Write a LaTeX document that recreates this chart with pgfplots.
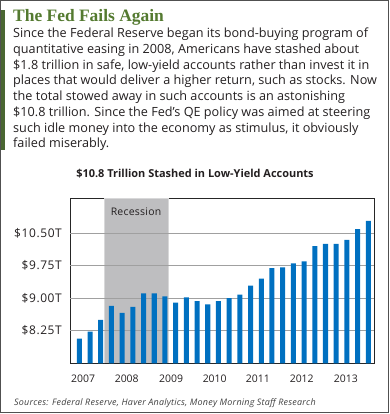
\documentclass[border=0pt]{standalone}
\usepackage{pgfplots}
\pgfplotsset{compat=1.18}
\usepackage{fontspec}
\setmainfont{Open Sans}
\newfontfamily\titlefont{Liberation Serif}
\newfontfamily\tickfont[LetterSpace=5]{Open Sans}
\newfontfamily\recfont[LetterSpace=2.4]{Open Sans}
\newfontfamily\footfont[LetterSpace=2.5]{Open Sans}
\definecolor{barblue}{RGB}{0,112,192}
\definecolor{recgray}{RGB}{190,190,192}
\definecolor{gridgray}{RGB}{160,160,160}
\definecolor{framegray}{RGB}{80,80,80}
\definecolor{leftgreen}{RGB}{74,102,50}
\definecolor{titlegreen}{RGB}{84,122,48}
\definecolor{bodytext}{RGB}{35,31,32}
\begin{document}
\begin{tikzpicture}
\useasboundingbox (0,0) rectangle (390bp,-414bp);
\draw[framegray, line width=1bp] (0.5bp,-0.5bp) rectangle (388.2bp,-412.6bp);
\fill[leftgreen] (1bp,-10bp) rectangle (4.5bp,-150bp);
\node[anchor=base west, inner sep=0, text=titlegreen, font=\titlefont\bfseries\fontsize{17.5}{18}\selectfont] at (13bp,-21bp) {The Fed Fails Again};
\begin{scope}[every node/.style={anchor=base west, inner sep=0, text=bodytext, font=\fontsize{12.7}{14}\selectfont}]
\node at (13bp,-37.7bp) {Since the Federal Reserve began its bond-buying program of};
\node at (13bp,-53.45bp) {quantitative easing in 2008, Americans have stashed about};
\node at (13bp,-69.2bp) {\$1.8 trillion in safe, low-yield accounts rather than invest it in};
\node at (13bp,-84.95bp) {places that would deliver a higher return, such as stocks. Now};
\node at (13bp,-100.7bp) {the total stowed away in such accounts is an astonishing};
\node at (13bp,-116.45bp) {\$10.8 trillion. Since the Fed’s QE policy was aimed at steering};
\node at (13bp,-132.2bp) {such idle money into the economy as stimulus, it obviously};
\node at (13bp,-147.95bp) {failed miserably.};
\end{scope}
\node[anchor=base, inner sep=0, text=bodytext, font=\bfseries\fontsize{11}{12}\selectfont] at (195bp,-177bp) {\$10.8 Trillion Stashed in Low-Yield Accounts};
\begin{axis}[
  at={(70bp,-363.3bp)}, anchor=south west,
  scale only axis, width=304.3bp, height=165bp,
  xmin=-0.87, xmax=27.56, ymin=7.5, ymax=11.3,
  axis line style={draw=black!85, line width=0.9bp},
  ytick={8.25,9.0,9.75,10.5},
  yticklabels={\$8.25T,\$9.00T,\$9.75T,\$10.50T},
  xtick={0.35,4.43,8.57,12.65,16.69,20.78,24.91},
  xticklabels={2007,2008,2009,2010,2011,2012,2013},
  /pgf/number format/assume math mode=true,
  major tick length=0pt,
  yticklabel style={anchor=east, inner sep=0pt, xshift=-8bp, font=\tickfont\fontsize{12}{14}\selectfont, text=bodytext},
  xticklabel style={anchor=base, inner sep=0pt, yshift=-18.7bp, font=\fontsize{10.5}{14}\selectfont, text=bodytext},
]
\addplot[fill=recgray, draw=recgray!60!white, line width=0.8bp] coordinates {(2.31,7.5) (2.31,11.3) (8.32,11.3) (8.32,7.5)};
\draw[gridgray, line width=0.9bp] (axis cs:-0.87,8.25) -- (axis cs:27.56,8.25);
\draw[gridgray, line width=0.9bp] (axis cs:-0.87,9.0) -- (axis cs:27.56,9.0);
\draw[gridgray, line width=0.9bp] (axis cs:-0.87,9.75) -- (axis cs:27.56,9.75);
\draw[gridgray, line width=0.9bp] (axis cs:-0.87,10.5) -- (axis cs:27.56,10.5);
\addplot[ybar, bar width=0.47, fill=barblue, draw=none] coordinates {
(0,8.07) (1,8.23) (2,8.50) (3,8.82) (4,8.66) (5,8.80) (6,9.11) (7,9.11)
(8,9.04) (9,8.90) (10,9.02) (11,8.93) (12,8.86) (13,8.93) (14,9.00) (15,9.08)
(16,9.29) (17,9.45) (18,9.69) (19,9.71) (20,9.80) (21,9.85) (22,10.20) (23,10.25)
(24,10.25) (25,10.34) (26,10.59) (27,10.78)};
\node[anchor=base, inner sep=0, text=bodytext, font=\recfont\fontsize{10.5}{12}\selectfont] at (axis cs:5.3,10.9) {Recession};
\end{axis}
\node[anchor=base west, inner sep=0, text=black!75, font=\footfont\itshape\fontsize{9}{10}\selectfont] at (14bp,-405bp) {Sources: Federal Reserve, Haver Analytics, Money Morning Staff Research};
\end{tikzpicture}
\end{document}
